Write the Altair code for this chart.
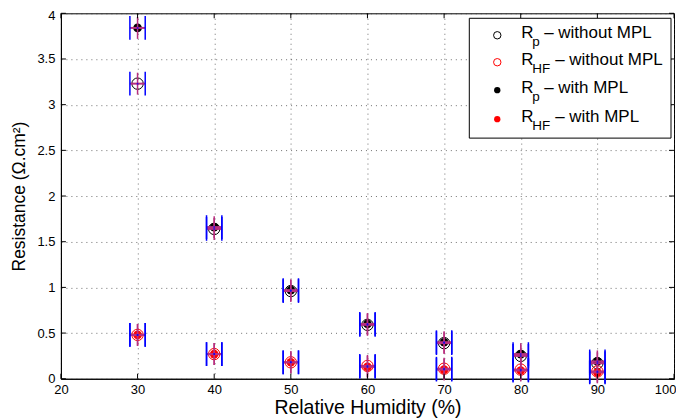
import altair as alt
import pandas as pd

# ---- data ----
humidity = [30, 40, 50, 60, 70, 80, 90]
rp_without = [3.23, 1.64, 0.96, 0.59, 0.39, 0.25, 0.17]
rhf_without = [0.48, 0.27, 0.18, 0.14, 0.11, 0.10, 0.08]
rp_with = [3.84, 1.66, 0.97, 0.60, 0.40, 0.27, 0.19]
rhf_with = [0.48, 0.27, 0.18, 0.13, 0.10, 0.09, 0.07]
x_err = 1.0
y_err = 0.12
cap_half = 0.13

x_ticks = list(range(20, 101, 10))
y_ticks = [0, 0.5, 1, 1.5, 2, 2.5, 3, 3.5, 4]

W, H = 614, 366
FONT = "Liberation Sans"

series = {
    "rp_without": rp_without,
    "rhf_without": rhf_without,
    "rp_with": rp_with,
    "rhf_with": rhf_with,
}
rows = []
for name, vals in series.items():
    for h, v in zip(humidity, vals):
        rows.append({"series": name, "h": h, "v": v})
df = pd.DataFrame(rows)

xs = alt.Scale(domain=[20, 100], nice=False, zero=False)
ys = alt.Scale(domain=[0, 4], nice=False, zero=False)
xaxis = alt.Axis(values=x_ticks, title="Relative Humidity (%)", grid=True,
                 labelPadding=5, titlePadding=2, format="d", labelFlush=False,
                 titleFontSize=19.5,
                 labelAlign={"condition": {"test": "datum.value == 100", "value": "right"},
                             "value": "center"},
                 labelOffset={"condition": {"test": "datum.value == 100", "value": 2},
                              "value": 0})
yaxis = alt.Axis(values=y_ticks, title="Resistance (Ω.cm²)", grid=True,
                 labelPadding=6, titlePadding=8, format=".1~f", labelFlush=False,
                 titleFontSize=17.5,
                 labelOffset={"condition": {"test": "datum.value == 4", "value": 2},
                              "value": 0})


def X(field):
    return alt.X(field, type="quantitative", scale=xs, axis=xaxis)


def Y(field):
    return alt.Y(field, type="quantitative", scale=ys, axis=yaxis)


base = alt.Chart(df)


def pts(name, color, filled, size):
    return base.transform_filter(alt.datum.series == name).mark_point(
        shape="circle", filled=filled, color=color, size=size,
        strokeWidth=1, opacity=1
    ).encode(x=X("h"), y=Y("v"))


points = [
    pts("rp_without", "black", False, 130),
    pts("rhf_without", "red", False, 130),
    pts("rp_with", "black", True, 75),
    pts("rhf_with", "red", True, 75),
]

eb = base.transform_calculate(
    xlo=alt.datum.h - x_err, xhi=alt.datum.h + x_err,
    ylo=alt.datum.v - y_err, yhi=alt.datum.v + y_err,
    clo=alt.datum.v - cap_half, chi=alt.datum.v + cap_half,
)
MAG = "#b8307f"
hbar = eb.mark_rule(color=MAG, strokeWidth=2).encode(x=X("xlo"), x2="xhi:Q", y=Y("v"))
vbar = eb.mark_rule(color=MAG, strokeWidth=1.5).encode(x=X("h"), y=Y("ylo"), y2="yhi:Q")
capl = eb.mark_rule(color="#0000ff", strokeWidth=1.5).encode(x=X("xlo"), y=Y("clo"), y2="chi:Q")
capr = eb.mark_rule(color="#0000ff", strokeWidth=1.5).encode(x=X("xhi"), y=Y("clo"), y2="chi:Q")
center = base.mark_point(shape="circle", filled=True, color="#0000ff", size=4).encode(x=X("h"), y=Y("v"))

# inward ticks (matlab box style)
xt = alt.Chart(pd.DataFrame({"t": x_ticks}))
yt = alt.Chart(pd.DataFrame({"t": y_ticks}))
ticks = [
    xt.mark_rule(color="black").encode(x=X("t"), y=alt.value(H), y2=alt.value(H - 5)),
    xt.mark_rule(color="black").encode(x=X("t"), y=alt.value(0), y2=alt.value(5)),
    yt.mark_rule(color="black").encode(y=Y("t"), x=alt.value(0), x2=alt.value(5)),
    yt.mark_rule(color="black").encode(y=Y("t"), x=alt.value(W), x2=alt.value(W - 5)),
]

# manual legend with subscripts
one = alt.Chart(pd.DataFrame({"a": [0]}))
legend_layers = [
    one.mark_rect(fill="white", stroke="black", strokeWidth=1).encode(
        x=alt.value(409), x2=alt.value(611), y=alt.value(5), y2=alt.value(125))
]
legend_rows = [
    ("p", "– without MPL", "black", False, 55, 25, 484),
    ("HF", "– without MPL", "red", False, 55, 52, 495),
    ("p", "– with MPL", "black", True, 40, 80, 484),
    ("HF", "– with MPL", "red", True, 40, 109, 495),
]
for sub, rest, color, filled, size, base_y, rest_x in legend_rows:
    legend_layers.append(one.mark_point(shape="circle", filled=filled, color=color,
                                        size=size, strokeWidth=1, opacity=1).encode(
        x=alt.value(437), y=alt.value(base_y - 3)))
    legend_layers.append(one.mark_text(text="R", font=FONT, fontSize=17, align="left",
                                       baseline="alphabetic", color="black").encode(
        x=alt.value(461), y=alt.value(base_y)))
    legend_layers.append(one.mark_text(text=sub, font=FONT, fontSize=13.5, align="left",
                                       baseline="alphabetic", color="black").encode(
        x=alt.value(472), y=alt.value(base_y + 8)))
    legend_layers.append(one.mark_text(text=rest, font=FONT, fontSize=17, align="left",
                                       baseline="alphabetic", color="black").encode(
        x=alt.value(rest_x), y=alt.value(base_y)))

chart = alt.layer(
    *points, hbar, vbar, capl, capr, center, *ticks, *legend_layers
).properties(
    width=W, height=H,
    autosize=alt.AutoSizeParams(type="none"),
    padding={"left": 53, "top": 5, "right": 2, "bottom": 42},
).configure_view(
    stroke="black", strokeWidth=1
).configure_axis(
    labelFont=FONT, titleFont=FONT, labelFontSize=13,
    titleFontWeight="normal", labelColor="black", titleColor="black",
    domainColor="black", domainWidth=1, ticks=False,
    gridColor="#333", gridDash=[1, 4], gridWidth=1, gridOpacity=0.7,
)

chart.save("out.html", embed_options={"renderer": "svg", "actions": False})
